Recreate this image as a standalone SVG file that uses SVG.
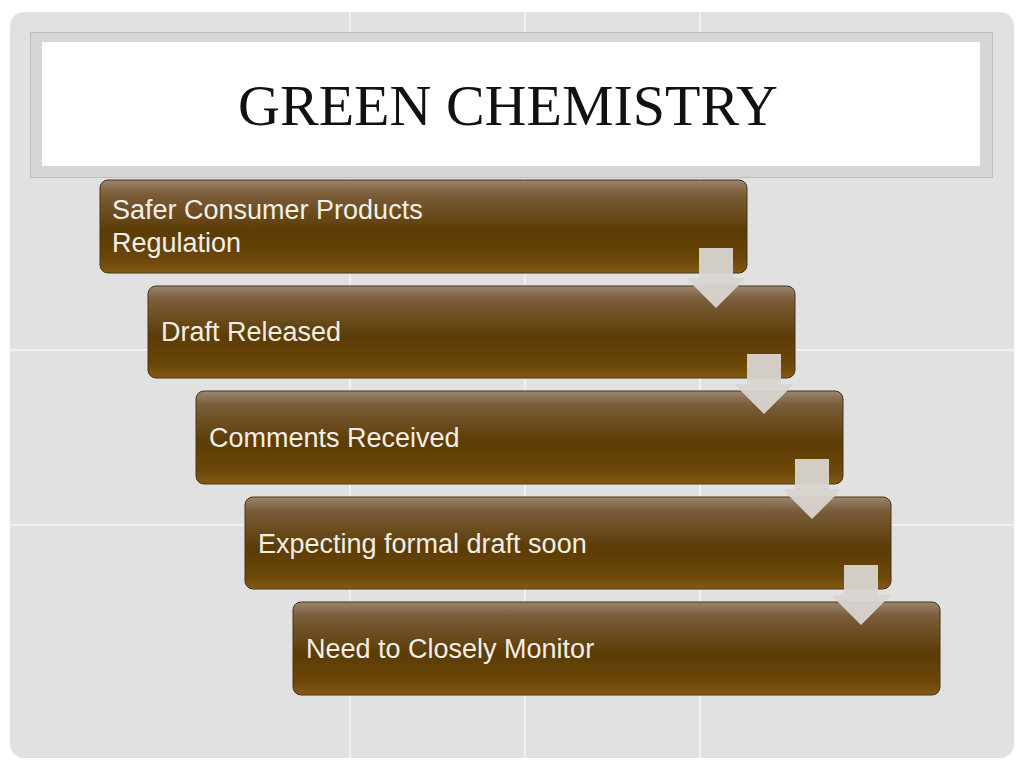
<svg xmlns="http://www.w3.org/2000/svg" width="1024" height="768" viewBox="0 0 1024 768">
<defs>
<linearGradient id="g" x1="0" y1="0" x2="0" y2="1">
<stop offset="0" stop-color="#9a8670"/><stop offset="0.15" stop-color="#7a5d3a"/><stop offset="0.55" stop-color="#5c3c05"/><stop offset="0.85" stop-color="#6a4608"/><stop offset="1" stop-color="#835a14"/>
</linearGradient>
</defs>
<style>
.box{fill:url(#g);stroke:#4a3514;stroke-width:1}
.t{font-family:"Liberation Sans",Arial,sans-serif;font-size:27px;fill:#f4eee6}
.ar{fill:#d8d5d0;opacity:0.95}
</style>
<rect width="1024" height="768" fill="#ffffff"/>
<rect x="10" y="12" width="1004" height="746" rx="14" fill="#e1e1e1"/>
<g stroke="#f4f4f4" stroke-width="1.5">
<line x1="350" y1="12" x2="350" y2="758"/><line x1="525" y1="12" x2="525" y2="758"/><line x1="700" y1="12" x2="700" y2="758"/>
<line x1="10" y1="350" x2="1014" y2="350"/><line x1="10" y1="525" x2="1014" y2="525"/>
</g>
<g id="title">
<rect x="30.5" y="32.5" width="962" height="145" fill="#d6d6d6" stroke="#bdbdbd"/>
<rect x="42" y="42" width="938" height="124" fill="#ffffff"/>
<text x="508" y="125" text-anchor="middle" font-family="'Liberation Serif','Times New Roman',serif" font-size="58" fill="#111">GREEN CHEMISTRY</text>
</g>
<g id="n1"><rect class="box" x="100" y="180" width="647" height="93" rx="8"/><text class="t" x="112" y="219">Safer Consumer Products</text><text class="t" x="112" y="252">Regulation</text></g>
<g id="n2"><rect class="box" x="148" y="286" width="647" height="92" rx="8"/><text class="t" x="161" y="341">Draft Released</text></g>
<g id="n3"><rect class="box" x="196" y="391" width="647" height="93" rx="8"/><text class="t" x="209" y="447">Comments Received</text></g>
<g id="n4"><rect class="box" x="245" y="497" width="646" height="92" rx="8"/><text class="t" x="258" y="553">Expecting formal draft soon</text></g>
<g id="n5"><rect class="box" x="293" y="602" width="647" height="93" rx="8"/><text class="t" x="306" y="658">Need to Closely Monitor</text></g>
<g id="connectors">
<path class="ar" d="M699 248h34v30h13l-30 30l-30-30h13z"/>
<path class="ar" d="M747 354h34v30h13l-30 30l-30-30h13z"/>
<path class="ar" d="M795 459h34v30h13l-30 30l-30-30h13z"/>
<path class="ar" d="M844 565h34v30h13l-30 30l-30-30h13z"/>
</g>
</svg>
